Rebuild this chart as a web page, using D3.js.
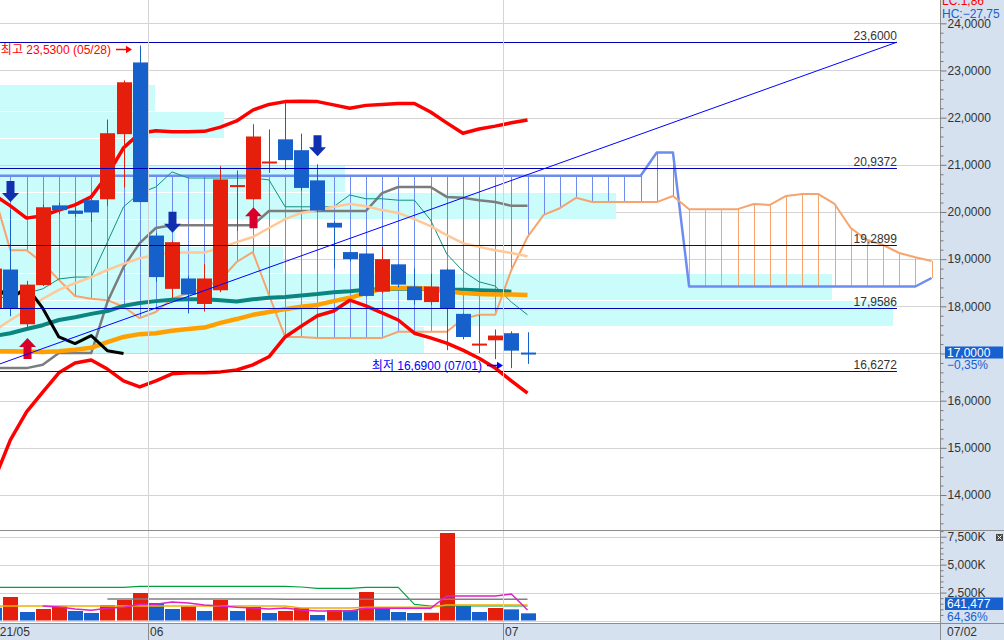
<!DOCTYPE html>
<html><head><meta charset="utf-8">
<script src="https://cdn.jsdelivr.net/npm/d3@7"></script>
<style>
html,body{margin:0;padding:0;background:#fff;overflow:hidden}
svg{display:block;font-family:"Liberation Sans","Noto Sans CJK KR",sans-serif;font-size:12px}
</style></head><body>
<svg id="c" width="1004" height="640"></svg>
<script>
// ---------------- data ----------------
const year = 2021;
const dates = ["05/14","05/17","05/18","05/20","05/21","05/24","05/25","05/26","05/27","05/28",
  "06/01","06/02","06/03","06/04","06/07","06/08","06/09","06/10","06/11","06/14",
  "06/15","06/16","06/17","06/18","06/21","06/22","06/23","06/24","06/25","06/28",
  "06/29","06/30","07/01","07/02"];
const open  = [17.96,18.78,17.62,18.45,20.14,20.03,20.25,20.27,21.65,23.17,19.50,18.37,18.59,18.05,18.34,20.55,20.27,21.05,21.54,21.31,20.67,19.77,19.15,19.12,18.31,18.89,18.42,18.09,18.78,17.84,17.20,17.28,17.43,17.02];
const high  = [18.95,20.04,18.54,20.16,20.20,20.10,20.32,21.96,22.79,23.53,19.55,19.39,18.64,18.90,20.97,20.88,21.86,21.75,22.37,21.66,21.01,19.80,19.16,19.13,19.26,18.90,18.80,18.69,18.80,17.85,17.82,17.51,17.47,17.45];
const low   = [17.85,17.79,17.50,18.43,19.95,19.90,19.79,20.13,20.52,20.21,18.52,18.18,17.85,17.89,18.30,19.60,20.27,20.83,20.89,20.45,20.00,18.80,18.95,18.20,18.28,18.40,18.04,18.03,17.07,17.30,17.01,16.88,16.69,16.78];
const close = [18.80,17.96,18.46,20.10,20.04,19.96,19.99,21.67,22.75,20.21,18.62,19.36,18.25,18.59,20.69,20.57,21.60,21.07,21.10,20.51,20.03,19.67,19.00,18.22,19.00,18.46,18.13,18.42,17.96,17.35,17.21,17.38,17.06,17.00];
// volume in thousands
const volume = [1146,2103,761,1029,1271,850,671,1387,1835,2461,1566,1029,1271,850,1835,850,1208,671,850,1119,492,940,920,2551,1029,761,671,690,7831,1298,761,1119,996.7,641.477];

const bbUpper = [20.36,20.13,19.87,19.92,20.04,20.15,20.32,20.78,21.36,21.67,21.72,21.70,21.70,21.71,21.80,21.93,22.16,22.28,22.34,22.35,22.34,22.27,22.20,22.26,22.28,22.30,22.30,22.12,21.89,21.67,21.76,21.82,21.89,21.95];
const bbMiddle = [17.48,17.71,17.92,18.16,18.35,18.49,18.62,18.77,18.90,19.02,19.09,19.14,19.14,19.14,19.24,19.36,19.47,19.66,19.85,19.98,20.04,20.11,20.17,20.12,20.04,19.98,19.85,19.70,19.51,19.34,19.26,19.19,19.13,19.06];
const bbLower = [14.32,15.17,15.76,16.18,16.59,16.80,16.86,16.67,16.42,16.29,16.42,16.57,16.59,16.59,16.61,16.65,16.76,16.93,17.35,17.58,17.80,17.90,18.13,18.01,17.86,17.71,17.43,17.33,17.22,17.07,16.90,16.69,16.42,16.16];
const maTeal = [17.37,17.43,17.52,17.60,17.71,17.77,17.84,17.90,18.01,18.07,18.11,18.14,18.15,18.15,18.13,18.10,18.15,18.18,18.20,18.23,18.26,18.30,18.32,18.35,18.36,18.37,18.37,18.36,18.35,18.35,18.34,18.33,18.31,null];
const maOrange = [17.05,17.05,17.04,17.03,17.05,17.08,17.12,17.24,17.35,17.41,17.43,17.48,17.52,17.55,17.65,17.73,17.82,17.88,17.94,17.99,18.03,18.11,18.18,18.28,18.37,18.39,18.39,18.37,18.32,18.28,18.26,18.25,18.25,18.24];
const tenkan = [18.13,18.24,18.28,18.37,18.58,18.62,18.62,19.36,20.11,20.40,20.53,20.85,20.72,20.72,20.72,20.72,20.72,20.68,20.11,20.11,20.11,20.11,20.36,20.28,20.28,20.25,20.25,19.83,19.11,18.75,18.52,18.43,18.09,17.82];
const kijun = [16.69,16.69,16.69,16.76,17.01,17.01,17.01,18.09,18.83,19.34,19.66,19.72,19.72,19.72,19.72,19.72,19.72,20.02,20.02,20.02,20.02,20.02,20.02,20.02,20.40,20.53,20.53,20.53,20.32,20.30,20.25,20.21,20.13,20.13];
const spanA = [20.36,19.19,19.19,18.92,18.56,18.22,18.16,18.13,17.99,17.75,17.88,18.16,18.28,18.41,18.56,18.94,19.15,18.24,17.35,17.35,17.33,17.33,17.33,17.33,17.33,17.46,17.46,17.46,17.46,17.73,17.82,17.82,18.77,19.47,19.94,20.08,20.30,20.21,20.21,20.21,20.21,20.21,20.34,20.06,20.06,20.06,20.06,20.17,20.15,20.34,20.38,20.38,20.17,19.66,19.41,19.30,19.13,19.04,18.96];
const spanB = [20.77,20.77,20.77,20.77,20.77,20.77,20.77,20.77,20.77,20.77,20.77,20.77,20.77,20.77,20.77,20.77,20.77,20.77,20.77,20.77,20.77,20.77,20.77,20.77,20.77,20.77,20.77,20.77,20.77,20.77,20.77,20.77,20.77,20.77,20.77,20.77,20.77,20.77,20.77,20.77,20.77,21.26,21.26,18.42,18.42,18.42,18.42,18.42,18.42,18.42,18.42,18.42,18.42,18.42,18.42,18.42,18.42,18.42,18.60];
const laggingShift = 25;

const volMaGreen = [2971,2971,2971,2971,2971,2971,2971,2971,2971,3061,3061,3061,3061,3061,3061,3061,3061,3061,3061,2998,2882,2882,2882,2971,2971,2971,1450,1298,1298,1298,1298,1298,1298,1298];
const volMaGray = [null,null,null,null,null,null,null,1924,1924,1924,1924,1924,1924,1924,1924,1924,1924,1924,1897,1897,1897,1897,1897,1897,1897,1897,1897,1897,1897,1897,1897,1897,1897,1897];
const volMaMagenta = [null,null,null,1298,1208,1029,913,1092,1181,1450,1450,1656,1566,1387,1298,1181,1119,1029,1119,940,850,850,850,1092,1092,1092,1092,1092,2193,2193,2193,2193,2372,940];
const volMaYellow = [1298,1298,1298,1298,1298,1298,1298,1298,1298,1298,1298,1298,1298,1298,1298,1298,1298,1298,1298,1119,1119,1119,1119,1181,1181,1181,1181,1181,1387,1387,1387,1387,1387,1387];

// volume-at-price profile (bottom band -> top band)
const profileRange = [16.98, 22.69];
const profileVol = [424, 893, 832, 283, 175, 616, 345, 140, 224, 155];

// analysis drawings
const fiboLevels = [23.6, 20.9372, 19.2899, 17.9586, 16.6272];
const drawEnd = 55.86;
const trendLine = [{i: 0.36, v: 16.78}, {i: 55.86, v: 23.6}];
const sellSignals = [1, 11, 20];
const buySignals = [2, 16];

const priceTicks = [14,15,16,17,18,19,20,21,22,23,24];
const volTicks = [2500, 5000, 7500];

// ---------------- drawing ----------------
const W = 1004, H = 640, PR = 940, PB = 530;
const svg = d3.select("#c");
const x = d3.scaleLinear().domain([0, 58]).range([-5.76, 931.52]);
const yP = d3.scaleLinear().domain([24, 14]).range([23.3, 495]);
const yV = d3.scaleLinear().domain([0, 7500]).range([620.5, 536.7]);
const c4 = v => d3.format(".4f")(v).replace(".", ",");
const c2 = v => d3.format(".2f")(v).replace(".", ",");
const RED = "#e61e0c", BLUE = "#1660cc", PANEL = "#d5e1ef";

const defs = svg.append("defs");
defs.append("clipPath").attr("id","cp").append("rect").attr("x",0).attr("y",0).attr("width",PR).attr("height",PB);
defs.append("clipPath").attr("id","cv").append("rect").attr("x",0).attr("y",531).attr("width",PR).attr("height",92);

svg.append("rect").attr("width",W).attr("height",H).attr("fill","#fff");
svg.append("rect").attr("x",941).attr("y",0).attr("width",W-941).attr("height",H).attr("fill",PANEL);
svg.append("rect").attr("x",0).attr("y",623.5).attr("width",W).attr("height",H-623.5).attr("fill",PANEL);

const main = svg.append("g").attr("clip-path","url(#cp)");
const volg = svg.append("g").attr("clip-path","url(#cv)");

// gridlines
main.selectAll("line.gp").data(priceTicks).join("line")
  .attr("x1",0).attr("x2",PR).attr("y1",d=>Math.round(yP(d))+.5).attr("y2",d=>Math.round(yP(d))+.5)
  .attr("stroke","#d4d4d4");
volg.selectAll("line.gv").data([0].concat(volTicks)).join("line")
  .attr("x1",0).attr("x2",PR).attr("y1",d=>Math.round(yV(d))+.5).attr("y2",d=>Math.round(yV(d))+.5)
  .attr("stroke","#d4d4d4");

// month separators
const monthStarts = dates.map((d,i)=>i).filter(i=>i>0 && dates[i].slice(0,2)!==dates[i-1].slice(0,2));
monthStarts.forEach(i=>{
  const xx = Math.round(x(i-0.5))+.5;
  svg.append("line").attr("x1",xx).attr("x2",xx).attr("y1",0).attr("y2",623).attr("stroke","#d4d4d4");
  svg.append("line").attr("x1",xx).attr("x2",xx).attr("y1",624).attr("y2",H).attr("stroke","#8a8a8a");
  svg.append("text").attr("x",xx+1.5).attr("y",636).attr("fill","#333").text(dates[i].slice(0,2));
});
svg.append("text").attr("x",-13.5).attr("y",636).attr("fill","#333").text(year+"/"+dates[0].slice(0,2));
svg.append("text").attr("x",947).attr("y",636).attr("fill","#333").text(dates[dates.length-1]);

// volume profile bands
const bandStep = (profileRange[1]-profileRange[0])/profileVol.length;
const pw = d3.scaleLinear().domain([0, d3.max(profileVol)]).range([0, PR*0.95]);
main.selectAll("rect.pf").data(profileVol).join("rect")
  .attr("x",0)
  .attr("y",(d,k)=>Math.round(yP(profileRange[0]+(k+1)*bandStep)))
  .attr("height",(d,k)=>Math.round(yP(profileRange[0]+k*bandStep))-Math.round(yP(profileRange[0]+(k+1)*bandStep))-1)
  .attr("width",d=>pw(d))
  .attr("fill","#cafcfc");

// ichimoku cloud hatch
main.selectAll("line.ht").data(spanA).join("line")
  .attr("x1",(d,i)=>Math.round(x(i))+.5).attr("x2",(d,i)=>Math.round(x(i))+.5)
  .attr("y1",d=>yP(d)).attr("y2",(d,i)=>yP(spanB[i]))
  .attr("stroke",(d,i)=>spanB[i]>=d ? "#6e8cf0" : "#f6a46e").attr("stroke-width",1);

const line = d3.line().defined(d=>d!=null).x((d,i)=>x(i)).y(d=>yP(d));
function drawLine(g, data, color, w, gen){
  g.append("path").datum(data).attr("d",gen||line).attr("fill","none")
   .attr("stroke",color).attr("stroke-width",w).attr("stroke-linejoin","round");
}
drawLine(main, spanB, "#6e8cf0", 2.5);
drawLine(main, spanA, "#f6a46e", 2);
drawLine(main, kijun, "#7c7c7c", 2.5);
drawLine(main, tenkan, "#13907e", 1);
drawLine(main, bbMiddle, "#ffc896", 2.5);
drawLine(main, maTeal, "#0b8580", 4);
drawLine(main, maOrange, "#ffa000", 4.5);
drawLine(main, bbUpper, "#ff0000", 3.5);
drawLine(main, bbLower, "#ff0000", 3.5);
// lagging span: close shifted back
const lag = close.map((c,i)=>({i:i-laggingShift, v:c})).filter(d=>d.i>=0);
main.append("path").datum(lag).attr("fill","none").attr("stroke","#000").attr("stroke-width",3)
  .attr("stroke-linejoin","round")
  .attr("d", d3.line().x(d=>x(d.i)).y(d=>yP(d.v)));

// candles
const cg = main.selectAll("g.cd").data(close).join("g");
cg.append("line")
  .attr("x1",(d,i)=>Math.round(x(i))+.5).attr("x2",(d,i)=>Math.round(x(i))+.5)
  .attr("y1",(d,i)=>yP(high[i])).attr("y2",(d,i)=>yP(low[i]))
  .attr("stroke",(d,i)=>d>=open[i]?RED:BLUE);
cg.append("rect")
  .attr("x",(d,i)=>Math.round(x(i))-7).attr("width",15)
  .attr("y",(d,i)=>yP(Math.max(d,open[i])))
  .attr("height",(d,i)=>Math.max(2, Math.abs(yP(d)-yP(open[i]))))
  .attr("fill",(d,i)=>d>=open[i]?RED:BLUE);

// signals
sellSignals.forEach(i=>{
  const cx = Math.round(x(i))+.5, b = yP(high[i])-8;
  main.append("path").attr("fill","#1030b0")
    .attr("d",`M${cx-4},${b-21}H${cx+4}V${b-9}H${cx+8.5}L${cx},${b}L${cx-8.5},${b-9}H${cx-4}Z`);
});
buySignals.forEach(i=>{
  const cx = Math.round(x(i))+.5, t = yP(low[i])+8;
  main.append("path").attr("fill","#d8002a")
    .attr("d",`M${cx-4},${t+21}H${cx+4}V${t+9}H${cx+8.5}L${cx},${t}L${cx-8.5},${t+9}H${cx-4}Z`);
});

// analysis lines
fiboLevels.forEach(v=>{
  const yy = Math.round(yP(v))+.5;
  main.append("line").attr("x1",x(0)).attr("x2",x(drawEnd)).attr("y1",yy).attr("y2",yy)
    .attr("stroke","#0000b4").attr("stroke-width",1);
  main.append("text").attr("x",x(drawEnd)).attr("y",yy-3).attr("text-anchor","end")
    .attr("fill","#333").text(c4(v));
});
main.append("line").attr("x1",x(trendLine[0].i)).attr("y1",yP(trendLine[0].v))
  .attr("x2",x(trendLine[1].i)).attr("y2",yP(trendLine[1].v))
  .attr("stroke","#0000ff").attr("stroke-width",1);

// high / low labels
function markLabel(i, v, txt, color, dy){
  const tipX = Math.round(x(i))-8, yy = Math.round(yP(v)+dy)+.5;
  main.append("line").attr("x1",tipX-16).attr("x2",tipX-5).attr("y1",yy).attr("y2",yy)
    .attr("stroke",color).attr("stroke-width",1.5);
  main.append("path").attr("fill",color).attr("d",`M${tipX},${yy}L${tipX-6},${yy-3.8}L${tipX-6},${yy+3.8}Z`);
  main.append("text").attr("x",tipX-21).attr("y",yy+4).attr("text-anchor","end").attr("fill",color).text(txt);
}
const iHi = d3.maxIndex(high), iLo = d3.minIndex(low);
markLabel(iHi, high[iHi], `최고 ${c4(high[iHi])} (${dates[iHi]})`, "#ff0000", 4);
markLabel(iLo, low[iLo], `최저 ${c4(low[iLo])} (${dates[iLo]})`, "#0000ff", -3.5);

// volume bars
const volUp = volume.map((v,i)=> i>0 && v>volume[i-1]);
volg.selectAll("rect.vb").data(volume).join("rect")
  .attr("x",(d,i)=>Math.round(x(i))-7).attr("width",15)
  .attr("y",d=>yV(d)).attr("height",d=>yV(0)-yV(d))
  .attr("fill",(d,i)=>volUp[i]?RED:BLUE);
const vline = d3.line().defined(d=>d!=null).x((d,i)=>x(i)).y(d=>yV(d));
[[volMaGreen,"#00a040",1.2],[volMaGray,"#808080",1.5],[volMaYellow,"#f0b000",1.5],[volMaMagenta,"#e020c8",1.5]]
  .forEach(([d,c,w])=>drawLine(volg,d,c,w,vline));

// frame lines
svg.append("line").attr("x1",0).attr("x2",W).attr("y1",530.5).attr("y2",530.5).attr("stroke","#8c8c8c");
svg.append("line").attr("x1",0).attr("x2",W).attr("y1",623.5).attr("y2",623.5).attr("stroke","#8c8c8c");
svg.append("line").attr("x1",940.5).attr("x2",940.5).attr("y1",0).attr("y2",H).attr("stroke","#8c8c8c");

// price axis
const last = close.length-1;
const cy = yP(close[last]);
const minorP = d3.range(134, 245, 2).map(d=>d/10).filter(d=>d%1!==0);
const ga = svg.append("g").attr("transform","translate(940.5,0)")
  .call(d3.axisRight(yP).tickValues(priceTicks).tickSize(6).tickPadding(1).tickFormat(c4));
const gm = svg.append("g").attr("transform","translate(940.5,0)")
  .call(d3.axisRight(yP).tickValues(minorP).tickSize(3).tickFormat(""));
const minorV = d3.range(500, 8001, 500).filter(d=>volTicks.indexOf(d)<0);
const gv = svg.append("g").attr("transform","translate(940.5,0)")
  .call(d3.axisRight(yV).tickValues(volTicks).tickSize(6).tickPadding(1).tickFormat(d=>d3.format(",")(d)+"K"));
const gvm = svg.append("g").attr("transform","translate(940.5,0)")
  .call(d3.axisRight(yV).tickValues(minorV).tickSize(3).tickFormat(""));
[ga,gm,gv,gvm].forEach(g=>{
  g.select(".domain").remove();
  g.attr("font-family",null).attr("font-size",null);
  g.selectAll("line").attr("stroke","#7a7a7a");
  g.selectAll("text").attr("fill","#333").style("font-size","12px");
});
// the tick label sitting under the current-price box is covered in the original
ga.selectAll(".tick").filter(d=>Math.abs(yP(d)-cy)<8).select("text").remove();

// current price marker
const chg = (close[last]/close[last-1]-1)*100;
svg.append("rect").attr("x",945).attr("y",Math.round(cy)-6.5).attr("width",58).attr("height",12).attr("fill","#1660d0");
svg.append("text").attr("x",947).attr("y",Math.round(cy)+4).attr("fill","#fff").text(c4(close[last]));
svg.append("text").attr("x",947).attr("y",Math.round(cy)+16).attr("fill","#1660d0").text(c2(chg)+"%");

// volume marker
const vchg = volume[last]/volume[last-1]*100;
svg.append("rect").attr("x",945).attr("y",597.5).attr("width",58).attr("height",12.5).attr("fill","#1660d0");
svg.append("text").attr("x",947).attr("y",608).attr("fill","#fff").text(d3.format(",")(Math.round(volume[last]*1000)));
svg.append("text").attr("x",947).attr("y",620.5).attr("fill","#1660d0").text(c2(vchg)+"%");

// top-right summary (drawn on a panel-coloured strip, as in the original)
const maxH = d3.max(high), minL = d3.min(low);
svg.append("rect").attr("x",941).attr("y",0).attr("width",W-941).attr("height",19).attr("fill",PANEL);
svg.append("text").attr("x",942).attr("y",4.5).attr("fill","#ff0000").text("LC:"+c2((close[last]-minL)/minL*100));
svg.append("text").attr("x",942).attr("y",17.5).attr("fill","#1660d0").text("HC:"+c2((close[last]-maxH)/maxH*100));

// small panel button
svg.append("rect").attr("x",996).attr("y",534).attr("width",7).attr("height",7).attr("fill","#4a4a4a");
svg.append("path").attr("d","M997.5,535.5L1001.5,539.5M1001.5,535.5L997.5,539.5").attr("stroke","#fff").attr("stroke-width",1);
</script>
</body></html>
